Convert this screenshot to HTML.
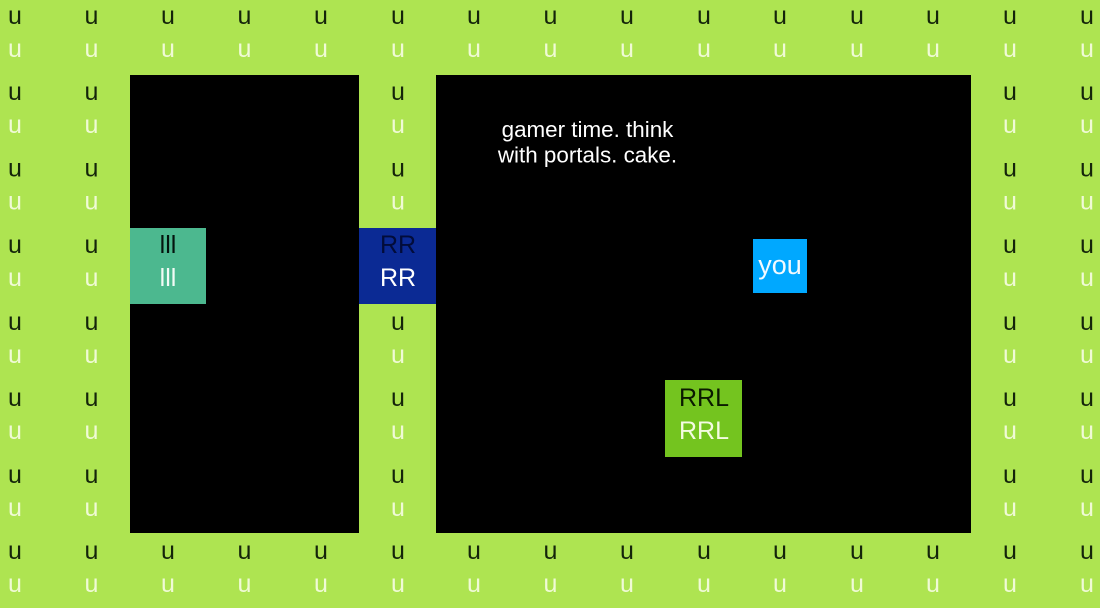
<!DOCTYPE html>
<html><head><meta charset="utf-8"><style>
html,body{margin:0;padding:0;width:1100px;height:608px;overflow:hidden;background:#aee451}
svg{display:block}
text{font-family:"Liberation Sans",sans-serif;font-size:25px;text-anchor:middle}
.b{fill:#14240a}.w{fill:#f0fad6}
</style></head><body>
<svg width="1100" height="608" viewBox="0 0 1100 608" xmlns="http://www.w3.org/2000/svg">
<rect width="1100" height="608" fill="#aee451"/>
<g class="b">
<text x="15" y="24">u</text><text x="91.5" y="24">u</text><text x="168" y="24">u</text><text x="244.5" y="24">u</text><text x="321" y="24">u</text><text x="398" y="24">u</text><text x="474" y="24">u</text><text x="550.5" y="24">u</text><text x="627" y="24">u</text><text x="704" y="24">u</text><text x="780" y="24">u</text><text x="857" y="24">u</text><text x="933" y="24">u</text><text x="1010" y="24">u</text><text x="1087" y="24">u</text>
<text x="15" y="100">u</text><text x="91.5" y="100">u</text><text x="398" y="100">u</text><text x="1010" y="100">u</text><text x="1087" y="100">u</text>
<text x="15" y="176.5">u</text><text x="91.5" y="176.5">u</text><text x="398" y="176.5">u</text><text x="1010" y="176.5">u</text><text x="1087" y="176.5">u</text>
<text x="15" y="253">u</text><text x="91.5" y="253">u</text><text x="1010" y="253">u</text><text x="1087" y="253">u</text>
<text x="15" y="330">u</text><text x="91.5" y="330">u</text><text x="398" y="330">u</text><text x="1010" y="330">u</text><text x="1087" y="330">u</text>
<text x="15" y="406">u</text><text x="91.5" y="406">u</text><text x="398" y="406">u</text><text x="1010" y="406">u</text><text x="1087" y="406">u</text>
<text x="15" y="483">u</text><text x="91.5" y="483">u</text><text x="398" y="483">u</text><text x="1010" y="483">u</text><text x="1087" y="483">u</text>
<text x="15" y="559">u</text><text x="91.5" y="559">u</text><text x="168" y="559">u</text><text x="244.5" y="559">u</text><text x="321" y="559">u</text><text x="398" y="559">u</text><text x="474" y="559">u</text><text x="550.5" y="559">u</text><text x="627" y="559">u</text><text x="704" y="559">u</text><text x="780" y="559">u</text><text x="857" y="559">u</text><text x="933" y="559">u</text><text x="1010" y="559">u</text><text x="1087" y="559">u</text>
</g>
<g class="w">
<text x="15" y="57">u</text><text x="91.5" y="57">u</text><text x="168" y="57">u</text><text x="244.5" y="57">u</text><text x="321" y="57">u</text><text x="398" y="57">u</text><text x="474" y="57">u</text><text x="550.5" y="57">u</text><text x="627" y="57">u</text><text x="704" y="57">u</text><text x="780" y="57">u</text><text x="857" y="57">u</text><text x="933" y="57">u</text><text x="1010" y="57">u</text><text x="1087" y="57">u</text>
<text x="15" y="133">u</text><text x="91.5" y="133">u</text><text x="398" y="133">u</text><text x="1010" y="133">u</text><text x="1087" y="133">u</text>
<text x="15" y="209.5">u</text><text x="91.5" y="209.5">u</text><text x="398" y="209.5">u</text><text x="1010" y="209.5">u</text><text x="1087" y="209.5">u</text>
<text x="15" y="286">u</text><text x="91.5" y="286">u</text><text x="1010" y="286">u</text><text x="1087" y="286">u</text>
<text x="15" y="363">u</text><text x="91.5" y="363">u</text><text x="398" y="363">u</text><text x="1010" y="363">u</text><text x="1087" y="363">u</text>
<text x="15" y="439">u</text><text x="91.5" y="439">u</text><text x="398" y="439">u</text><text x="1010" y="439">u</text><text x="1087" y="439">u</text>
<text x="15" y="516">u</text><text x="91.5" y="516">u</text><text x="398" y="516">u</text><text x="1010" y="516">u</text><text x="1087" y="516">u</text>
<text x="15" y="592">u</text><text x="91.5" y="592">u</text><text x="168" y="592">u</text><text x="244.5" y="592">u</text><text x="321" y="592">u</text><text x="398" y="592">u</text><text x="474" y="592">u</text><text x="550.5" y="592">u</text><text x="627" y="592">u</text><text x="704" y="592">u</text><text x="780" y="592">u</text><text x="857" y="592">u</text><text x="933" y="592">u</text><text x="1010" y="592">u</text><text x="1087" y="592">u</text>
</g>
<rect x="130" y="75" width="229" height="458" fill="#000"/>
<rect x="436" y="75" width="535" height="458" fill="#000"/>
<rect x="130" y="228" width="76" height="76" fill="#4cb88f"/>
<rect x="359" y="228" width="77" height="76" fill="#0b2a94"/>
<rect x="753" y="239" width="54" height="54" fill="#00a8ff"/>
<rect x="665" y="380" width="77" height="77" fill="#74c41f"/>
<text x="168" y="253" fill="#04140e">lll</text>
<text x="168" y="286" fill="#f2fbf6">lll</text>
<text x="398" y="253" fill="#020c3a">RR</text>
<text x="398" y="286" fill="#fff">RR</text>
<text x="704" y="406" fill="#0a1a00">RRL</text>
<text x="704" y="439" fill="#f4fbe2">RRL</text>
<text x="780" y="274" fill="#f2faff" style="font-size:27px">you</text>
<text x="587.5" y="137" fill="#fff" style="font-size:22.4px">gamer time. think</text>
<text x="587.5" y="162.5" fill="#fff" style="font-size:22.4px">with portals. cake.</text>
</svg>
</body></html>
